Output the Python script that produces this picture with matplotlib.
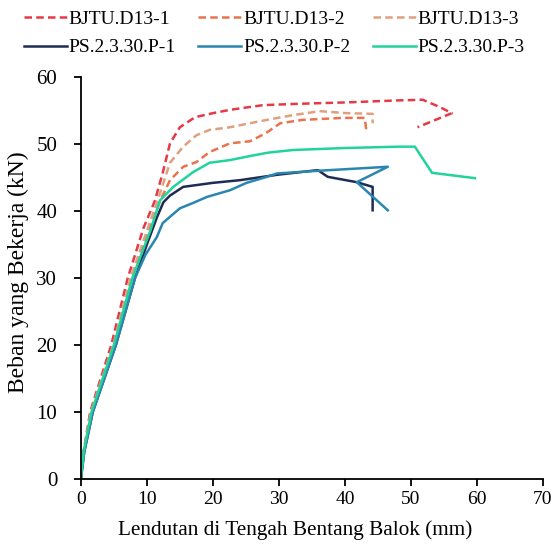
import matplotlib
matplotlib.use("Agg")
import matplotlib.pyplot as plt

plt.rcParams['font.family'] = ['Liberation Serif', 'DejaVu Serif']

# Data (deflection mm, load kN)
d13_1_x = [0, 0.4, 1.4, 4.6, 7.1, 9.5, 11.2, 12.4, 13.5, 15.0, 17.3, 20.0, 22.6, 27.6, 33.0, 40.0, 47.9, 51.8, 54.4, 56.2, 51.0]
d13_1_y = [0, 4.0, 10.0, 20.0, 30.0, 37.5, 41.5, 45.7, 50.1, 52.5, 54.0, 54.6, 55.1, 55.8, 56.0, 56.2, 56.5, 56.6, 55.5, 54.6, 52.5]

d13_2_x = [0, 0.4, 1.6, 5.0, 7.7, 10.3, 12.0, 13.5, 15.5, 17.5, 19.5, 22.6, 25.6, 28.0, 30.2, 33.6, 39.7, 43.0, 43.3]
d13_2_y = [0, 4.0, 10.0, 20.0, 30.0, 37.0, 41.5, 44.6, 46.6, 47.3, 48.8, 50.1, 50.4, 51.6, 53.1, 53.6, 53.9, 53.9, 51.6]

d13_3_x = [0, 0.4, 1.5, 4.9, 7.5, 10.0, 12.0, 13.5, 15.5, 17.5, 19.5, 22.6, 25.6, 28.2, 32.1, 36.2, 40.3, 44.2, 44.2]
d13_3_y = [0, 4.0, 10.0, 20.0, 30.0, 37.0, 42.7, 47.2, 49.6, 51.3, 52.1, 52.5, 53.1, 53.6, 54.3, 54.9, 54.6, 54.5, 53.1]

p1_x = [0, 0.5, 1.8, 5.3, 8.2, 10.0, 11.5, 12.5, 13.5, 15.5, 20.0, 24.1, 27.6, 29.7, 35.9, 37.4, 41.8, 44.2, 44.2]
p1_y = [0, 4.0, 10.0, 20.0, 30.0, 35.0, 39.0, 41.3, 42.3, 43.6, 44.2, 44.6, 45.1, 45.4, 46.1, 45.1, 44.3, 43.6, 40.1]

p2_x = [0, 0.5, 1.8, 5.3, 8.2, 9.8, 11.5, 12.4, 15.0, 17.0, 19.1, 22.6, 25.1, 28.2, 29.7, 35.9, 46.5, 41.8, 46.5]
p2_y = [0, 4.0, 10.0, 20.0, 30.0, 33.5, 36.1, 38.2, 40.4, 41.2, 42.1, 43.1, 44.2, 45.1, 45.6, 46.0, 46.6, 44.3, 40.1]

p3_x = [0, 0.4, 1.6, 5.0, 7.8, 10.5, 12.0, 14.0, 17.0, 19.5, 22.6, 25.1, 28.3, 32.1, 40.0, 48.3, 50.6, 53.2, 59.7]
p3_y = [0, 4.0, 10.0, 20.0, 30.0, 37.0, 41.6, 43.6, 45.8, 47.2, 47.6, 48.1, 48.7, 49.1, 49.4, 49.6, 49.6, 45.7, 44.9]

labels = ["BJTU.D13-1", "BJTU.D13-2", "BJTU.D13-3", "PS.2.3.30.P-1", "PS.2.3.30.P-2", "PS.2.3.30.P-3"]
colors = ["#E63946", "#E8734D", "#DFA07E", "#1E2B55", "#2A86AE", "#22D39C"]
xs = [d13_1_x, d13_2_x, d13_3_x, p1_x, p2_x, p3_x]
ys = [d13_1_y, d13_2_y, d13_3_y, p1_y, p2_y, p3_y]
styles = [(0, (3, 1.7))] * 3 + ['-'] * 3

fig = plt.figure(figsize=(5.54, 5.46), dpi=100)
ax = fig.add_axes([0.146, 0.1227, 0.834, 0.7363])

handles = []
for x, y, c, ls, lab in zip(xs, ys, colors, styles, labels):
    h, = ax.plot(x, y, color=c, linestyle=ls, linewidth=1.8, label=lab)
    handles.append(h)

ax.set_xlim(0, 70)
ax.set_ylim(0, 60)
ax.set_xticks(range(0, 71, 10))
ax.set_yticks(range(0, 61, 10))
for s in ['top', 'right']:
    ax.spines[s].set_visible(False)
for s in ['left', 'bottom']:
    ax.spines[s].set_linewidth(1.3)
ax.tick_params(direction='out', length=5, width=1.3, labelsize=14)
ax.tick_params(axis='y', pad=12, labelsize=15)
ax.set_xlabel("Lendutan di Tengah Bentang Balok (mm)", fontsize=15.3)
ax.set_ylabel("Beban yang Bekerja (kN)", fontsize=17)
ax.xaxis.set_label_coords(0.463, -0.102)
ax.yaxis.set_label_coords(-0.112, 0.515)

order = [0, 3, 1, 4, 2, 5]
fig.legend(handles=[handles[i] for i in order], labels=[labels[i] for i in order],
           loc='upper left', bbox_to_anchor=(0.012, 1.013),
           ncol=3, frameon=False, fontsize=14, handlelength=2.2, handletextpad=0.1,
           columnspacing=1.15, labelspacing=0.55)

fig.savefig("out.png", dpi=100)
